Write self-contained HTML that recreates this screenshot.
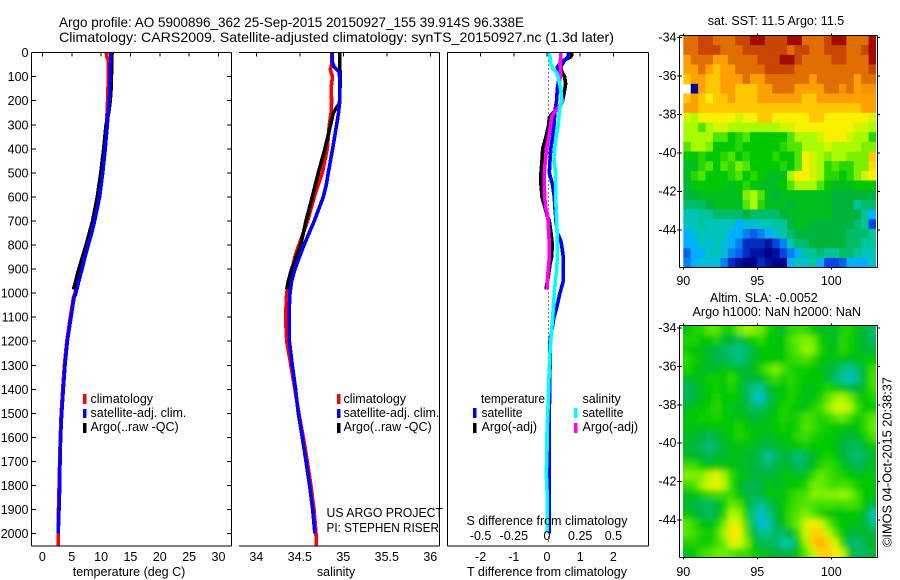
<!DOCTYPE html>
<html lang="en">
<head>
<meta charset="utf-8">
<title>Argo profile 5900896_362</title>
<style>
html,body{margin:0;padding:0;background:#fff;}
svg{display:block;font-family:"Liberation Sans",Arial,sans-serif;font-size:12.5px;fill:#000;}
text{fill:#000;}
.title{font-size:14px;}
.ax{stroke:#000;stroke-width:1;fill:none;shape-rendering:crispEdges;}
.prof{fill:none;stroke-width:3.6;stroke-linejoin:round;shape-rendering:crispEdges;}
.mid{text-anchor:middle;}
.end{text-anchor:end;}
</style>
</head>
<body>
<svg id="figure" xmlns="http://www.w3.org/2000/svg" width="900" height="580" viewBox="0 0 900 580">
  <defs>
    <clipPath id="sstClip"><rect x="683" y="36" width="193" height="231"/></clipPath>
    <clipPath id="slaClip"><rect x="683" y="326" width="193" height="231"/></clipPath>
    <filter id="slaBlur" filterUnits="userSpaceOnUse" x="640" y="290" width="260" height="290"><feGaussianBlur stdDeviation="3"/></filter>
  </defs>
  <text class="title" x="59" y="27" textLength="465" lengthAdjust="spacingAndGlyphs">Argo profile: AO 5900896_362 25-Sep-2015 20150927_155 39.914S 96.338E</text>
  <text class="title" x="59" y="42" textLength="555" lengthAdjust="spacingAndGlyphs">Climatology: CARS2009. Satellite-adjusted climatology: synTS_20150927.nc (1.3d later)</text>

  <g id="tempPanel"></g>
  <g id="salPanel"></g>
  <g id="diffPanel"></g>

  <text class="mid" x="129" y="576">temperature (deg C)</text>
  <text class="mid" x="336" y="576">salinity</text>
  <text class="mid" x="547" y="576">T difference from climatology</text>
  <text class="mid" x="547" y="525">S difference from climatology</text>

  <g>
    <rect x="83" y="394" width="3.5" height="10" fill="#ff0000"/>
    <text x="90.5" y="403">climatology</text>
    <rect x="83" y="409" width="3.5" height="9" fill="#0000ff"/>
    <text x="90.5" y="417">satellite-adj. clim.</text>
    <rect x="83" y="423" width="3.5" height="10" fill="#000"/>
    <text x="90.5" y="431">Argo(..raw -QC)</text>
  </g>
  <g>
    <rect x="337" y="394" width="3.5" height="10" fill="#ff0000"/>
    <text x="343.5" y="403">climatology</text>
    <rect x="337" y="409" width="3.5" height="9" fill="#0000ff"/>
    <text x="343.5" y="417">satellite-adj. clim.</text>
    <rect x="337" y="423" width="3.5" height="10" fill="#000"/>
    <text x="343.5" y="431">Argo(..raw -QC)</text>
  </g>
  <text x="326.5" y="517" textLength="116.5" lengthAdjust="spacingAndGlyphs">US ARGO PROJECT</text>
  <text x="326.5" y="532" textLength="112.5" lengthAdjust="spacingAndGlyphs">PI: STEPHEN RISER</text>
  <g>
    <text x="481" y="403" textLength="64" lengthAdjust="spacingAndGlyphs">temperature</text>
    <rect x="473" y="408" width="3.5" height="10" fill="#0000ff"/>
    <text x="481.5" y="417" textLength="41" lengthAdjust="spacingAndGlyphs">satellite</text>
    <rect x="473" y="423" width="3.5" height="10" fill="#000"/>
    <text x="481.5" y="431">Argo(-adj)</text>
    <text x="582.5" y="403">salinity</text>
    <rect x="574" y="408" width="3.5" height="10" fill="#00ffff"/>
    <text x="582.5" y="417" textLength="41" lengthAdjust="spacingAndGlyphs">satellite</text>
    <rect x="574" y="423" width="3.5" height="10" fill="#ff00ff"/>
    <text x="582.5" y="431">Argo(-adj)</text>
  </g>

  <text class="mid" x="776" y="25">sat. SST: 11.5 Argo: 11.5</text>
  <g id="sstMap"></g>
  <text x="710" y="302">Altim. SLA: -0.0052</text>
  <text x="692.5" y="316" textLength="168.5" lengthAdjust="spacingAndGlyphs">Argo h1000: NaN h2000: NaN</text>
  <g id="slaMap"></g>
  <text transform="translate(891.5,547) rotate(-90)" textLength="170" lengthAdjust="spacingAndGlyphs">©IMOS 04-Oct-2015 20:38:37</text>
</svg>

<script>
/* ---------- axis tick values ---------- */
const depthTicks = [0,100,200,300,400,500,600,700,800,900,1000,1100,1200,1300,1400,1500,1600,1700,1800,1900,2000];
const tempTicks = [0,5,10,15,20,25,30];
const salTicks = [34,34.5,35,35.5,36];
const diffTTicks = [-2,-1,0,1,2];
const diffSTicks = [-0.5,-0.25,0,0.25,0.5];
const mapLonTicks = [90,95,100];
const mapLatTicks = [-34,-36,-38,-40,-42,-44];

/* ---------- temperature profiles ---------- */
const climTempDepth = [0,15,30,60,100,200,260,300,400,500,600,700,750,800,850,900,950,1000,1020,1100,1200,1300,1400,1500,1600,1700,1800,1900,2000,2052];
const climTemp = [10.9,10.95,11.2,11.25,11.25,11.1,11.0,10.95,10.55,10.15,9.6,8.75,8.25,7.65,7.1,6.6,6.05,5.55,5.28,4.75,4.15,3.75,3.45,3.2,3.05,2.95,2.85,2.75,2.7,2.7];
const satTempDepth = [0,50,100,200,250,300,400,500,600,700,750,800,850,900,950,1000,1020,1100,1200,1300,1400,1500,1600,1700,1800,1900,2000];
const satTemp = [11.65,11.6,11.55,11.4,11.2,11.05,10.7,10.27,9.75,8.9,8.4,7.8,7.25,6.75,6.2,5.7,5.38,4.87,4.25,3.85,3.56,3.28,3.1,3.0,2.95,2.83,2.7];
const argoTempDepth = [0,50,150,200,250,300,400,500,600,700,800,900,985];
const argoTemp = [11.85,11.8,11.7,11.55,11.3,10.85,10.45,9.95,9.35,8.55,7.45,6.2,5.3];

/* ---------- salinity profiles ---------- */
const climSalDepth = [0,50,70,100,150,200,250,300,400,500,550,600,700,800,850,900,950,1000,1100,1200,1300,1400,1500,1600,1700,1800,1900,2000,2050];
const climSal = [34.866,34.866,34.85,34.875,34.86,34.866,34.86,34.839,34.816,34.759,34.713,34.667,34.59,34.49,34.444,34.414,34.376,34.349,34.337,34.349,34.398,34.444,34.49,34.54,34.586,34.628,34.663,34.686,34.69];
const satSalDepth = [0,40,60,80,100,200,250,300,400,500,550,600,700,800,900,950,1000,1050,1100,1200,1300,1400,1500,1600,1700,1800,1900,2000];
const satSal = [34.874,34.874,34.897,34.95,34.958,34.958,34.946,34.923,34.877,34.828,34.805,34.77,34.667,34.548,34.444,34.406,34.387,34.38,34.38,34.38,34.414,34.452,34.483,34.529,34.571,34.613,34.648,34.674];
const argoSalDepth = [0,60,90,210,240,250,300,400,500,600,700,800,900,950,985];
const argoSal = [34.958,34.958,34.966,34.958,34.904,34.885,34.854,34.789,34.713,34.644,34.571,34.51,34.406,34.368,34.349];

/* ---------- differences from climatology ---------- */
const satDiffTDepth = [0,20,35,50,60,100,150,200,240,300,350,400,500,550,600,650,700,750,780,800,850,900,950,1000,1050,1100,1150,1200,1300,1400,1500,1600,1700,1800,1900,2000];
const satDiffT = [0.65,0.63,0.49,0.37,0.31,0.37,0.31,0.29,0.24,0.21,0.17,0.11,0.07,0.17,0.22,0.24,0.27,0.31,0.41,0.44,0.49,0.49,0.49,0.39,0.31,0.21,0.15,0.09,0.09,0.08,0.07,0.06,0.06,0.06,0.07,0.06];
const argoDiffTDepth = [0,10,20,30,60,80,100,130,150,200,230,250,270,300,350,380,400,450,500,550,600,650,680,700,750,800,850,880,920,985];
const argoDiffT = [0.75,0.75,0.69,0.54,0.41,0.45,0.53,0.56,0.54,0.47,0.37,0.19,0.07,0.05,-0.03,-0.09,-0.13,-0.15,-0.18,-0.18,-0.15,-0.05,0.01,0.07,0.12,0.16,0.14,0.09,0.05,-0.03];
const satDiffSDepth = [0,20,50,65,80,100,150,200,240,300,350,400,450,500,600,700,800,850,900,950,1000,1050,1167,1236,1305,1375,1444,1513,1583,1652,1750,1860,2000];
const satDiffS = [0.01,0.023,0.03,0.043,0.068,0.083,0.103,0.11,0.093,0.085,0.068,0.058,0.053,0.065,0.065,0.073,0.078,0.078,0.073,0.063,0.055,0.05,0.033,0.023,0.018,0.013,0.01,0.005,0,0,-0.005,0.003,0.003];
const argoDiffSDepth = [0,20,50,100,120,200,230,250,270,300,350,400,450,500,550,600,650,680,700,750,800,850,900,950,985];
const argoDiffS = [0.103,0.103,0.098,0.103,0.093,0.116,0.085,0.053,0.035,0.028,0.013,-0.003,-0.013,-0.02,-0.02,-0.018,-0.008,0.005,0.008,0.013,0.018,0.018,0.01,0.003,0.003];

/* ---------- SST map, deg C, north to south, 90E to 103E ---------- */
const sstRows = [
[14.5,14.5,15,15,14.5,14.5,14.5,15,15,15.5,15.5,15,15,15,15.5,15.5,14.5,14.5,14.5,15,15.5,15.5,14.5,14.5,14.5,15.5],
[14.5,14.5,15,15,15,14.5,14.5,14.5,15,15,15,15,15,15,14.5,15,15,14.5,14.5,15,15,15,14.5,14.5,15,15.5],
[13.8,14.5,14.5,14.5,13.8,13.8,14.5,14.5,14.5,14.5,15,15,15,15.5,15.5,15,14.5,14.5,14.5,14.5,15,15,14.5,14.5,14.5,15.5],
[13.8,13.8,14.5,13.8,13.2,13.8,13.8,14.5,14.5,14.5,14.5,15,15,15,15,14.5,14.5,14.5,14.5,14.5,14.5,14.5,14.5,14.5,14.5,15],
[13.2,13.8,13.8,13.2,13.2,13.8,13.8,13.8,14.5,13.8,13.8,14.5,14.5,14.5,14.5,14.5,14.5,13.8,14.5,14.5,14.5,14.5,14.5,13.8,14.5,14.5],
[null,8,13.8,13.2,13.2,13.8,13.8,13.2,13.2,13.2,13.8,13.8,14.5,14.5,14.5,13.8,13.8,13.8,13.8,14.5,14.5,14,14.5,13.8,14,14],
[13.2,13.8,13.2,12.8,13.2,13.2,13.8,13.2,13.2,13.2,13.8,13.8,13.8,13.8,13.8,13.8,13.2,13.2,13.8,13.8,13.8,13.8,13.8,13.8,13.8,13.8],
[13.8,13.8,13.2,13.2,13.2,13.2,13.2,13.2,13.2,13.2,13.2,13.2,13.2,13.2,13.2,13.2,13.2,13.2,13.2,13.2,13.2,13.2,13.2,13.2,13.8,13.8],
[12.5,12.2,12.8,12.8,12.8,12.8,12.8,12.5,12.8,12.8,13.2,13.2,12.8,12.8,12.8,12.8,12.8,13.2,13.2,12.8,12.8,12.8,12.8,12.8,12.8,12.5],
[12.2,12.2,11.8,12.2,12.5,12.5,12.2,12.2,12.2,12.2,12.2,12.2,12.2,12.5,12.5,12.8,12.8,12.8,12.8,12.8,12.8,12.8,12.8,12.5,12.5,12.2],
[12.2,12.2,12.2,12.2,11.8,11.8,11.2,11.5,11.8,11.2,11.2,11.2,11.2,11.2,11.8,12.2,12.2,12.2,12.5,12.8,12.8,12.8,12.5,12.2,12.2,11.5],
[11.8,12.2,12.2,12,11.2,11.2,11.2,11.5,11.2,11.2,11.2,11.2,11.2,11.5,11.8,11.8,12.2,12.2,12.2,12.5,12.2,12.2,12.2,12.2,12,12],
[11.2,11.2,11.5,11.2,11.2,11.5,11.8,11.2,11.5,11.2,11.2,11.2,11.5,11.2,11.2,11.8,12.8,12.5,12.2,12,12.2,12.2,12,12,12,13.2],
[11,11,11.5,11.8,11.2,11.8,11.5,12,11.8,11.2,11.2,11.2,11.2,11.5,11.2,11.8,12.8,12.5,12.2,11.5,11.8,11.5,11.5,12,12,13],
[11,11.5,11.8,11.2,11.2,11.2,11.5,11.8,11.2,11.5,11.2,11,11,11,12.2,12.8,12.8,12.5,12.2,11.5,11.5,11.2,11.5,12,12.5,12.8],
[10.8,11.2,11.2,11.2,11.2,11.2,11,11.2,11.5,11.2,11,11,11,11.2,11.8,12.2,12.2,12.2,11.8,11.2,11,11,11,11.2,11.2,11.2],
[10.8,10.8,11,11,11,11,11,11,12,12.2,11.8,11,10.8,11,11,11,11,11,11,11,10.8,10.8,10.8,10.8,10.8,10.8],
[10.5,10.5,10.5,10.8,11,11,11,11,11.8,12.2,11.5,11,11,11,10.8,11,11,11,11,11,10.8,10.8,10.8,10.2,10.5,10.5],
[10,10,10.2,10.2,10.5,10.5,10.5,10.5,10.8,10.5,10.5,10.5,10.5,10.8,11,11,11,11,11,11,10.8,10.8,10.8,10.8,10.2,9.5],
[10,10,10.2,10,10,10,10,9.5,9.8,9.8,10,10,10.2,10.2,10.8,11,11,10.8,10.8,10.8,10.8,10.8,10.8,10.5,10.2,8.8],
[9.5,9.8,10,10,10,10,9.5,9.5,9.2,9,9.2,9.5,9.8,10.2,10.5,10.8,10.8,10.8,10.8,10.8,10.8,10.8,10.5,10.5,10.5,10.2],
[9.5,9.5,10,9.8,10,9.8,9.5,9.2,8.5,8.5,8.5,8.2,8.8,9.2,10,10.5,10.5,10.8,10.8,10.8,10.8,10.8,10.5,10.5,10.2,10.2],
[9,9.5,9.5,10,10,9.8,9.2,9,8.5,8.2,8.2,8,8.2,8.8,9.2,9.5,10.2,10.2,10.5,10.2,10.2,10.5,10.5,10.2,10,10],
[9.2,9.5,9.8,9.8,9.8,9.2,8.5,8.2,8,8,8.5,8.2,8,8,9.5,10,9.8,10.2,9.5,8.8,8.8,9,9.5,9.5,9.5,10]
];

/* ---------- sea level anomaly map, cm, north to south, 90E to 103E ---------- */
const slaRows = [
[0,3,3,7,7,3,2,8,10,9,8,2,0,-2,4,5,5,1,-1,-1,-2,3,3,0,-3,-6],
[3,3,1,1,3,-2,-3,-5,0,2,4,1,0,1,6,8,9,8,2,0,-2,4,2,-1,-3,-6],
[2,0,0,-2,-4,-5,-7,-8,-6,-2,0,1,0,0,5,7,10,9,3,0,0,4,2,0,-2,-3],
[4,2,0,-2,-4,-5,-6,-8,-5,-2,0,1,0,1,4,5,6,4,1,0,0,0,-1,-1,0,1],
[3,1,-1,-2,-1,0,0,-2,-3,-1,3,7,9,6,3,2,2,1,0,-2,-4,-7,-9,-6,-1,5],
[-2,-1,0,2,2,1,5,1,-3,-3,-1,3,5,2,4,2,1,0,1,-2,-6,-9,-12,-8,-2,6],
[-5,-4,-1,1,2,0,3,0,-5,-8,-9,-3,0,0,3,2,0,-1,1,3,2,0,-2,-3,0,5],
[-5,-3,-1,1,3,1,1,0,-4,-10,-13,-5,-1,1,3,1,-1,0,3,7,10,11,8,3,1,3],
[-2,0,1,2,4,1,-1,-1,-2,-6,-6,-2,0,3,2,0,0,3,5,9,13,14,11,5,1,1],
[0,1,2,2,3,1,0,0,-1,-3,-2,-1,1,3,2,3,6,5,3,4,7,8,5,2,4,7],
[0,0,-1,0,1,0,1,3,1,-1,0,0,1,2,1,3,7,5,3,2,1,1,0,0,4,8],
[-1,-2,-3,-5,-3,-1,1,3,2,0,-1,-2,0,0,1,4,5,3,2,1,0,-2,-3,-2,2,6],
[-2,-3,-5,-7,-5,-2,-1,0,0,-1,-3,-4,-2,-1,0,1,2,1,1,1,0,-3,-5,-5,-2,1],
[-1,-2,-3,-5,-3,-2,-1,-1,-2,-3,-6,-9,-6,-3,-4,-7,-5,-2,1,3,1,-3,-5,-7,-5,-2],
[5,5,2,0,0,0,0,-1,-2,-3,-5,-6,-4,-2,-3,-6,-4,-1,3,5,3,0,-3,-5,-3,-1],
[9,9,9,12,15,10,4,0,-1,-3,-3,-3,-2,0,0,-1,0,4,8,6,4,3,1,0,0,0],
[5,6,10,14,16,12,4,-1,-4,-5,-3,0,-2,0,1,1,3,8,8,6,5,6,5,2,1,0],
[-1,0,2,4,5,5,5,1,-3,-5,-3,1,0,0,3,5,6,9,9,9,9,10,9,5,1,0],
[-2,-4,-5,-5,-2,2,8,6,0,-6,-9,-5,-2,1,4,6,7,6,5,6,5,5,6,5,1,-3],
[1,-2,-4,-6,-2,3,11,10,2,-8,-13,-8,-3,0,5,7,9,7,3,1,0,0,1,1,-3,-10],
[7,4,1,-1,2,8,15,14,5,-6,-14,-11,-4,-1,5,8,14,17,14,8,3,1,0,0,-3,-8],
[7,5,3,1,5,10,18,17,7,-3,-8,-8,-5,-6,-3,5,13,20,20,13,7,1,-3,-3,-2,-3],
[3,3,2,2,5,8,15,14,9,1,-4,-5,-6,-10,-9,0,10,20,25,20,14,3,-5,-7,-4,-2],
[-1,1,5,6,8,8,7,5,5,2,0,-2,-3,-4,-3,1,7,12,20,20,17,13,-1,-6,-5,-2]
];

/* ---------- axis functions ---------- */
const yD = d => 52.6 + 0.2405 * d;
const xTemp = t => 42.4 + 5.87 * t;
const xSal = s => 343.3 + 87 * (s - 35);
const xDiffT = t => 547 + 33.2 * t;
const xDiffS = s => 547 + 132.8 * s;
const lonToX = lon => 683.3 + 14.8 * (lon - 90);
const sstLatToY = lat => 37.5 + 19.25 * (-34 - lat);
const slaLatToY = lat => 328 + 19.2 * (-34 - lat);

const NS = 'http://www.w3.org/2000/svg';
function mk(parent, tag, attrs, txt) {
  const el = document.createElementNS(NS, tag);
  for (const k in attrs) el.setAttribute(k, attrs[k]);
  if (txt !== undefined) el.textContent = txt;
  parent.appendChild(el);
  return el;
}
function axisLine(parent, x1, y1, x2, y2, name) {
  const el = mk(parent, 'line', {x1: x1, y1: y1, x2: x2, y2: y2, class: 'ax'});
  
  
  return el;
}
function label(parent, x, y, txt, cls, name) {
  const el = mk(parent, 'text', {x: x, y: y, class: cls}, txt);
  
  
  return el;
}
function profile(parent, depths, vals, xf, color, name) {
  const pts = depths.map((d, i) => xf(vals[i]).toFixed(1) + ',' + yD(d).toFixed(1)).join(' ');
  const el = mk(parent, 'polyline', {points: pts, class: 'prof', stroke: color});
  
  
  return el;
}

const T_AX = 52.5, B_AX = 546;

/* ---------- temperature panel ---------- */
const tp = document.getElementById('tempPanel');
profile(tp, climTempDepth, climTemp, xTemp, '#ff0000', 'climatology-temperature-line');
profile(tp, argoTempDepth, argoTemp, xTemp, '#000000', 'argo-temperature-line');
profile(tp, satTempDepth, satTemp, xTemp, '#0000ff', 'satellite-temperature-line');
axisLine(tp, 31.5, T_AX, 231.5, T_AX, 'temperature-top-axis');
axisLine(tp, 31.5, B_AX, 231.5, B_AX, 'temperature-bottom-axis');
axisLine(tp, 31.5, T_AX, 31.5, B_AX, 'temperature-left-axis');
axisLine(tp, 231.5, T_AX, 231.5, B_AX, 'temperature-right-axis');
depthTicks.forEach(d => {
  axisLine(tp, 31.5, yD(d), 36, yD(d), 'depth-tick-left');
  axisLine(tp, 227, yD(d), 231.5, yD(d), 'depth-tick-right');
  label(tp, 28.5, yD(d) + 4.5, String(d), 'end', 'depth-tick-label');
});
tempTicks.forEach(t => {
  axisLine(tp, xTemp(t), T_AX, xTemp(t), T_AX + 4, 'temperature-tick');
  label(tp, xTemp(t), 561, String(t), 'mid', 'temperature-tick-label');
});

/* ---------- salinity panel ---------- */
const sp = document.getElementById('salPanel');
profile(sp, climSalDepth, climSal, xSal, '#ff0000', 'climatology-salinity-line');
profile(sp, argoSalDepth, argoSal, xSal, '#000000', 'argo-salinity-line');
profile(sp, satSalDepth, satSal, xSal, '#0000ff', 'satellite-salinity-line');
axisLine(sp, 239, T_AX, 439.5, T_AX, 'salinity-top-axis');
axisLine(sp, 239, B_AX, 439.5, B_AX, 'salinity-bottom-axis');
axisLine(sp, 439.5, T_AX, 439.5, B_AX, 'salinity-right-axis');
salTicks.forEach(s => {
  axisLine(sp, xSal(s), T_AX, xSal(s), T_AX + 4, 'salinity-tick');
  label(sp, xSal(s), 561, String(s), 'mid', 'salinity-tick-label');
});

/* ---------- difference panel ---------- */
const dp = document.getElementById('diffPanel');
const zeroLine = axisLine(dp, xDiffT(0.05), T_AX, xDiffT(0.05), B_AX - 4, 'zero-difference-line');
zeroLine.setAttribute('stroke-dasharray', '1 3');
profile(dp, argoDiffTDepth, argoDiffT, xDiffT, '#000000', 'argo-t-difference-line');
profile(dp, satDiffTDepth, satDiffT, xDiffT, '#0000ff', 'satellite-t-difference-line');
profile(dp, argoDiffSDepth, argoDiffS, xDiffS, '#ff00ff', 'argo-s-difference-line');
profile(dp, satDiffSDepth, satDiffS, xDiffS, '#00ffff', 'satellite-s-difference-line');
axisLine(dp, 447.5, T_AX, 648.5, T_AX, 'difference-top-axis');
axisLine(dp, 447.5, B_AX, 648.5, B_AX, 'difference-bottom-axis');
axisLine(dp, 447.5, T_AX, 447.5, B_AX, 'difference-left-axis');
axisLine(dp, 648.5, T_AX, 648.5, B_AX, 'difference-right-axis');
diffTTicks.forEach(t => {
  axisLine(dp, xDiffT(t), T_AX, xDiffT(t), T_AX + 4, 'difference-tick');
  label(dp, xDiffT(t), 561, String(t), 'mid', 't-difference-tick-label');
});
diffSTicks.forEach(s => {
  label(dp, xDiffS(s), 540, String(s), 'mid', 's-difference-tick-label');
});

/* ---------- maps ---------- */
const colorStops = [[8,0,0,140],[8.8,0,70,225],[9.5,0,175,255],[10.1,0,200,170],[10.8,0,180,60],[11.2,0,200,0],[11.8,80,230,0],[12.2,170,250,0],[12.8,250,240,0],[13.2,255,200,0],[13.8,255,160,0],[14.5,225,110,0],[15,200,70,0],[15.5,165,10,0]];
function colorOf(v) {
  if (v <= colorStops[0][0]) return 'rgb(0,0,140)';
  for (let i = 1; i < colorStops.length; i++) {
    const a = colorStops[i - 1], b = colorStops[i];
    if (v <= b[0]) {
      const f = (v - a[0]) / (b[0] - a[0]);
      return 'rgb(' + [1, 2, 3].map(k => Math.round(a[k] + f * (b[k] - a[k]))).join(',') + ')';
    }
  }
  return 'rgb(165,10,0)';
}
const slaColorValue = cm => 11.12 + cm / 10;

function drawCells(parent, rows, top, rowH, toColor, extend, name) {
  const colW = (876 - 683.3) / rows[0].length;
  rows.forEach((row, r) => {
    row.forEach((v, c) => {
      if (v === null) return;
      let x = 683.3 + c * colW, y = top + r * rowH, w = colW + 0.5, h = rowH + 0.5;
      if (extend) {
        if (c === 0) { x -= 20; w += 20; }
        if (c === row.length - 1) { w += 20; }
        if (r === 0) { y -= 20; h += 20; }
        if (r === rows.length - 1) { h += 20; }
      }
      const cell = mk(parent, 'rect', {x: x.toFixed(2), y: y.toFixed(2), width: w.toFixed(2), height: h.toFixed(2), fill: toColor(v)});
      
      
    });
  });
}
function mapFrame(parent, top, bottom, latToY, namePrefix, labelY) {
  axisLine(parent, 679.5, top, 877.5, top, namePrefix + '-top-axis');
  axisLine(parent, 679.5, bottom, 877.5, bottom, namePrefix + '-bottom-axis');
  axisLine(parent, 679.5, top, 679.5, bottom, namePrefix + '-left-axis');
  axisLine(parent, 877.5, top, 877.5, bottom, namePrefix + '-right-axis');
  mapLatTicks.forEach(lat => {
    axisLine(parent, 677, latToY(lat), 682, latToY(lat), namePrefix + '-lat-tick');
    axisLine(parent, 877.5, latToY(lat), 880, latToY(lat), namePrefix + '-lat-tick-right');
    label(parent, 676.5, latToY(lat) + 4, String(lat), 'end', namePrefix + '-lat-tick-label');
  });
  mapLonTicks.forEach(lon => {
    axisLine(parent, lonToX(lon), top - 2, lonToX(lon), top, namePrefix + '-lon-tick-top');
    axisLine(parent, lonToX(lon), bottom, lonToX(lon), bottom + 2, namePrefix + '-lon-tick-bottom');
    label(parent, lonToX(lon), labelY, String(lon), 'mid', namePrefix + '-lon-tick-label');
  });
}

const sstG = document.getElementById('sstMap');
const sstCells = mk(sstG, 'g', {'clip-path': 'url(#sstClip)'});


drawCells(sstCells, sstRows, 35.5, 9.67, colorOf, false, 'sst-cell');
mapFrame(sstG, 35.5, 267.5, sstLatToY, 'sst-map', 285);

const slaG = document.getElementById('slaMap');
const slaClipGroup = mk(slaG, 'g', {'clip-path': 'url(#slaClip)'});


const slaCells = mk(slaClipGroup, 'g', {filter: 'url(#slaBlur)'});


drawCells(slaCells, slaRows, 325.5, 9.67, cm => colorOf(slaColorValue(cm)), true, 'sla-cell');
mapFrame(slaG, 325.5, 557.5, slaLatToY, 'sla-map', 576);
</script>
</body>
</html>
